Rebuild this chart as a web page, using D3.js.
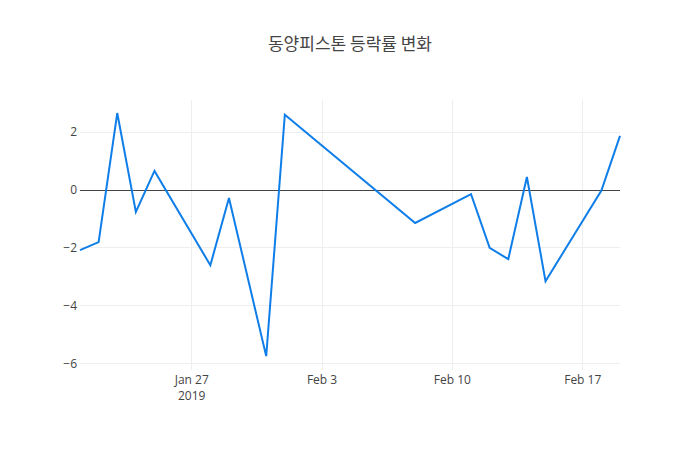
<!DOCTYPE html>
<html><head><meta charset="utf-8">
<script src="https://cdn.jsdelivr.net/npm/d3@7"></script>
<style>body{margin:0;background:#fff}</style></head>
<body><svg id="c" width="700" height="450"></svg>
<script>
const dates=["2019-01-21","2019-01-22","2019-01-23","2019-01-24","2019-01-25","2019-01-28","2019-01-29","2019-01-31","2019-02-01","2019-02-08","2019-02-11","2019-02-12","2019-02-13","2019-02-14","2019-02-15","2019-02-18","2019-02-19"];
const values=[-2.08,-1.8,2.66,-0.76,0.66,-2.6,-0.28,-5.74,2.6,-1.14,-0.14,-2.0,-2.39,0.45,-3.15,-0.02,1.87];
const yTicks=[-6,-4,-2,0,2];
const xTicks=["2019-01-27","2019-02-03","2019-02-10","2019-02-17"];
const xTickLabels=["Jan 27","Feb 3","Feb 10","Feb 17"];
const yearLabel="2019";
const title="동양피스톤 등락률 변화";

const parse=d3.utcParse("%Y-%m-%d");
const svg=d3.select("#c");
const L=80,R=620,T=100,B=370;
const font="'Open Sans', sans-serif";
const x=d3.scaleUtc().domain([parse(dates[0]),parse(dates[dates.length-1])]).range([L,R]);
const y=d3.scaleLinear().domain([-6.22,3.11]).range([B,T]);

const g=svg.append("g");
g.selectAll(".gy").data(yTicks.filter(d=>d!==0)).join("line").attr("x1",L).attr("x2",R)
 .attr("y1",d=>y(d)).attr("y2",d=>y(d)).attr("stroke","#eee").attr("shape-rendering","crispEdges");
g.selectAll(".gx").data(xTicks).join("line").attr("y1",T).attr("y2",B)
 .attr("x1",d=>x(parse(d))).attr("x2",d=>x(parse(d))).attr("stroke","#eee").attr("shape-rendering","crispEdges");
g.append("line").attr("x1",L).attr("x2",R).attr("y1",y(0)).attr("y2",y(0)).attr("stroke","#444").attr("shape-rendering","crispEdges");

g.selectAll(".yl").data(yTicks).join("text").attr("x",L-3).attr("y",d=>y(d)).attr("dy","0.35em")
 .attr("text-anchor","end").attr("font-family",font).attr("font-size",12).attr("fill","#444")
 .text(d=>d<0?"\u2212"+Math.abs(d):d);
g.selectAll(".xl").data(xTicks).join("text").attr("x",d=>x(parse(d))).attr("y",B+14)
 .attr("text-anchor","middle").attr("font-family",font).attr("font-size",12).attr("fill","#444")
 .text((d,i)=>xTickLabels[i]);
g.append("text").attr("x",x(parse(xTicks[0]))).attr("y",B+30).attr("text-anchor","middle")
 .attr("font-family",font).attr("font-size",12).attr("fill","#444").text(yearLabel);

const line=d3.line().x((d,i)=>x(parse(dates[i]))).y(d=>y(d));
g.append("path").datum(values).attr("d",line).attr("fill","none").attr("stroke","#0f7ee8").attr("stroke-width",2);

svg.append("text").attr("x",350).attr("y",50).attr("text-anchor","middle")
 .attr("font-family","'Noto Sans CJK KR', sans-serif").attr("font-size",17).attr("fill","#444").text(title);
</script></body></html>
